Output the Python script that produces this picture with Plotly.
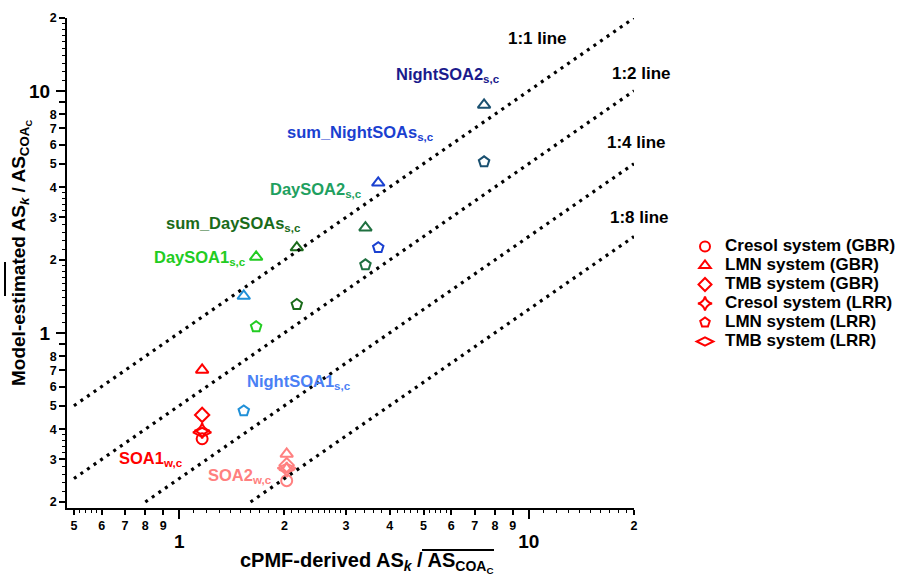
import numpy as np
import plotly.graph_objects as go

# ---------------- data ----------------
components = ["SOA1", "SOA2", "NightSOA1", "DaySOA1", "sum_DaySOAs", "DaySOA2", "sum_NightSOAs", "NightSOA2"]
cpmf_x = [1.163, 2.03, 1.53, 1.66, 2.17, 3.41, 3.71, 7.45]
marker_colors = ["#ff0000", "#ff8080", "#2090d8", "#22cc22", "#1a6b1a", "#1f7040", "#1a40d0", "#1a5070"]
label_colors = ["#ff0000", "#ff8080", "#4a80f5", "#22cc22", "#1a6b1a", "#1fa060", "#1a40d0", "#1a1a8c"]
label_text = ["SOA1<sub>w,c</sub>", "SOA2<sub>w,c</sub>", "NightSOA1<sub>s,c</sub>", "DaySOA1<sub>s,c</sub>",
              "sum_DaySOAs<sub>s,c</sub>", "DaySOA2<sub>s,c</sub>", "sum_NightSOAs<sub>s,c</sub>", "NightSOA2<sub>s,c</sub>"]
label_x = [0.832, 1.49, 2.2, 1.15, 1.43, 2.47, 3.30, 5.88]
label_y = [0.302, 0.255, 0.627, 2.04, 2.82, 3.9, 6.7, 11.6]

systems = ["Cresol system (GBR)", "LMN system (GBR)", "TMB system (GBR)",
           "Cresol system (LRR)", "LMN system (LRR)", "TMB system (LRR)"]
symbols = ["circle-open", "triangle-up-open", "diamond-open",
           "star-diamond-open", "pentagon-open", "diamond-wide-open"]
# model-estimated values per system (None = not shown)
model_y = {
    "Cresol system (GBR)": [0.365, 0.245, None, None, None, None, None, None],
    "LMN system (GBR)":    [0.703, 0.316, 1.42, 2.06, 2.25, 2.72, 4.17, 8.75],
    "TMB system (GBR)":    [0.458, 0.284, None, None, None, None, None, None],
    "Cresol system (LRR)": [0.394, 0.272, None, None, None, None, None, None],
    "LMN system (LRR)":    [None, None, 0.476, 1.06, 1.31, 1.91, 2.25, 5.09],
    "TMB system (LRR)":    [0.388, 0.276, None, None, None, None, None, None],
}

ratio_names = ["1:1 line", "1:2 line", "1:4 line", "1:8 line"]
ratio_vals = [1, 2, 4, 8]
ratio_x0 = [0.5, 0.5, 0.8, 1.6]
ratio_x1 = [20, 20, 20, 20]

x_lab_ticks = [0.5, 0.6, 0.7, 0.8, 0.9, 2, 3, 4, 5, 6, 7, 8, 9, 20]
x_lab_text = ["5", "6", "7", "8", "9", "2", "3", "4", "5", "6", "7", "8", "9", "2"]
x_minor = [0.52, 0.54, 0.56, 0.58] + [1.1, 1.2, 1.3, 1.4, 1.5, 1.6, 1.7, 1.8, 1.9] + \
          [2.1, 2.2, 2.3, 2.4, 2.5, 2.6, 2.7, 2.8, 2.9] + [3.2, 3.4, 3.6, 3.8, 4.2, 4.4, 4.6, 4.8, 5.2, 5.4, 5.6, 5.8] + \
          [11, 12, 13, 14, 15, 16, 17, 18, 19]
y_lab_ticks = [0.2, 0.3, 0.4, 0.5, 0.6, 0.7, 0.8, 0.9, 2, 3, 4, 5, 6, 7, 8, 9, 20]
y_lab_text = ["2", "3", "4", "5", "6", "7", "8", "", "2", "3", "4", "5", "6", "7", "8", "", "2"]
y_minor = [0.22, 0.24, 0.26, 0.28, 0.32, 0.34, 0.36, 0.38] + [1.1, 1.2, 1.3, 1.4, 1.5, 1.6, 1.7, 1.8, 1.9] + \
          [2.2, 2.4, 2.6, 2.8, 3.2, 3.4, 3.6, 3.8] + [11, 12, 13, 14, 15, 16, 17, 18, 19]
major_ticks = [1, 10]
major_text = ["1", "10"]

# ---------------- figure ----------------
W, H = 897, 574
L, R, T, B = 67, 634, 18, 508
FONT = "Liberation Sans, Arial, sans-serif"

xr = [np.log10(0.5) - 7 / 351, np.log10(20)]
yr = [np.log10(0.2) - 6 / 242, np.log10(20)]

def px2paper_x(px):
    return (px - L) / (R - L)

def px2paper_y(py):
    return (B - py) / (B - T)

fig = go.Figure()

# reference lines
for name, r, a, b in zip(ratio_names, ratio_vals, ratio_x0, ratio_x1):
    fig.add_trace(go.Scatter(x=[a, b], y=[a / r, b / r], mode="lines",
                             line=dict(color="black", width=3.2, dash="3px,5px"),
                             showlegend=False, hoverinfo="skip", xaxis="x2", yaxis="y2"))

def msize(sym):
    return 13 if "wide" in sym else 11

# data points
for sys_name, sym in zip(systems, symbols):
    vals = model_y[sys_name]
    for i, v in enumerate(vals):
        if v is None:
            continue
        fig.add_trace(go.Scatter(x=[cpmf_x[i]], y=[v], mode="markers",
                                 marker=dict(symbol=sym, size=msize(sym),
                                             color=marker_colors[i],
                                             line=dict(color=marker_colors[i], width=2)),
                                 showlegend=False))

# legend-only entries
for sys_name, sym in zip(systems, symbols):
    fig.add_trace(go.Scatter(x=[None], y=[None], mode="markers",
                             name="<span style='font-size:17px'>" + sys_name + "</span>",
                             marker=dict(symbol=sym, size=msize(sym) - 1, color="#ff0000",
                                         line=dict(color="#ff0000", width=2))))

# component labels
for t, lx, ly, c in zip(label_text, label_x, label_y, label_colors):
    fig.add_annotation(x=np.log10(lx), y=np.log10(ly), xref="x", yref="y", text="<b>" + t + "</b>",
                       showarrow=False, xanchor="center", yanchor="middle",
                       font=dict(family=FONT, size=16.5, color=c))

# ratio line labels
line_label_px = [(537, 39), (641, 73), (636, 143), (639, 217)]
for name, (px, py) in zip(ratio_names, line_label_px):
    fig.add_annotation(x=px2paper_x(px), y=px2paper_y(py), xref="paper", yref="paper",
                       text="<b>" + name + "</b>", showarrow=False, xanchor="center", yanchor="middle",
                       font=dict(family=FONT, size=17, color="black"))

# axis titles
fig.add_annotation(x=px2paper_x(366), y=px2paper_y(562), xref="paper", yref="paper",
                   text="<b>cPMF-derived AS<sub><i>k</i></sub> / AS<sub>COA<sub>C</sub></sub></b>",
                   showarrow=False, xanchor="center", yanchor="middle",
                   font=dict(family=FONT, size=20, color="black"))
fig.add_annotation(x=px2paper_x(21), y=px2paper_y(253), xref="paper", yref="paper",
                   text="<b>Model-estimated AS<sub><i>k</i></sub> / AS<sub>COA<sub>C</sub></sub></b>",
                   textangle=-90, showarrow=False, xanchor="center", yanchor="middle",
                   font=dict(family=FONT, size=19, color="black"))

# overlines
fig.add_shape(type="line", xref="paper", yref="paper",
              x0=px2paper_x(422), x1=px2paper_x(494), y0=px2paper_y(550), y1=px2paper_y(550),
              line=dict(color="black", width=2))
fig.add_shape(type="line", xref="paper", yref="paper",
              x0=px2paper_x(5), x1=px2paper_x(5), y0=px2paper_y(262), y1=px2paper_y(296),
              line=dict(color="black", width=2))

tickfont_small = dict(family=FONT, size=12.5, color="black", weight="bold")
tickfont_big = dict(family=FONT, size=19, color="black", weight="bold")

fig.update_layout(
    width=W, height=H,
    margin=dict(l=L, r=W - R, t=T, b=H - B, autoexpand=False),
    paper_bgcolor="white", plot_bgcolor="white",
    xaxis=dict(type="log", range=xr, showgrid=False, zeroline=False,
               showline=True, linecolor="black", linewidth=1.5,
               tickmode="array", tickvals=x_lab_ticks, ticktext=x_lab_text,
               ticks="outside", ticklen=5, tickwidth=1.5, tickcolor="black",
               tickfont=tickfont_small,
               minor=dict(tickmode="array", tickvals=x_minor, ticks="outside", ticklen=3,
                          tickwidth=1.2, tickcolor="black", showgrid=False)),
    yaxis=dict(type="log", range=yr, showgrid=False, zeroline=False,
               showline=True, linecolor="black", linewidth=1.5,
               tickmode="array", tickvals=y_lab_ticks, ticktext=y_lab_text,
               ticks="outside", ticklen=6, tickwidth=1.5, tickcolor="black",
               tickfont=tickfont_small,
               minor=dict(tickmode="array", tickvals=y_minor, ticks="outside", ticklen=3,
                          tickwidth=1.2, tickcolor="black", showgrid=False)),
    xaxis2=dict(type="log", range=xr, overlaying="x", anchor="y2", side="bottom",
                showgrid=False, zeroline=False, showline=False,
                tickmode="array", tickvals=major_ticks, ticktext=major_text,
                ticks="outside", ticklen=10, tickwidth=1.5, tickcolor="black",
                tickfont=tickfont_big, ticklabelstandoff=6),
    yaxis2=dict(type="log", range=yr, overlaying="y", anchor="x2", side="left",
                showgrid=False, zeroline=False, showline=False,
                tickmode="array", tickvals=major_ticks, ticktext=major_text,
                ticks="outside", ticklen=10, tickwidth=1.5, tickcolor="black",
                tickfont=tickfont_big, ticklabelstandoff=2),
    legend=dict(x=px2paper_x(685), y=px2paper_y(232), xanchor="left", yanchor="top",
                font=dict(family=FONT, size=12, color="black", weight="bold"),
                bgcolor="rgba(0,0,0,0)", itemwidth=30, tracegroupgap=0),
    showlegend=True,
)

fig.write_html("out.html")
